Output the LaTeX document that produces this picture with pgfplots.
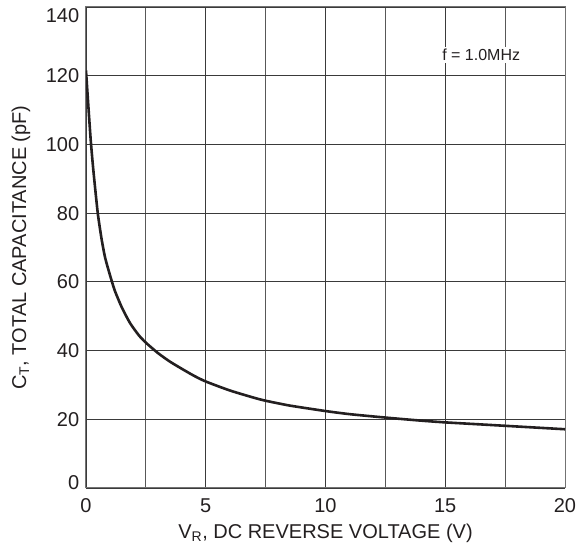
\documentclass[border=0pt]{standalone}
\usepackage{fontspec}
\setmainfont{Liberation Sans}
\usepackage{pgfplots}
\pgfplotsset{compat=1.18}
\definecolor{ink}{HTML}{231F20}
\definecolor{gridc}{HTML}{3A3A3A}

\begin{document}
\fontsize{20}{24}\selectfont
\begin{tikzpicture}
  \begin{axis}[
        at={(0,0)}, anchor=south west,
        scale only axis,
        width=479pt, height=481pt,
        xmin=0, xmax=20, ymin=0, ymax=140,
        xtick={0,5,...,20},
        minor xtick={2.5,7.5,12.5,17.5},
        ytick={0,20,...,140},
        grid=both,
        major grid style={draw=gridc, line width=0.9pt},
        minor grid style={draw=gridc!85, line width=0.9pt},
        major tick length=0pt, minor tick length=0pt,
        axis line style={draw=black!55, line width=1pt},
        tick label style={font=\fontsize{20}{24}\selectfont, text=ink},
        label style={font=\fontsize{20}{24}\selectfont, text=ink},
        /pgf/number format/assume math mode=true,
        xticklabel style={yshift=-4pt},
        % the end labels sit inside the frame in the original
        yticklabel={\pgfmathtruncatemacro\tv{\tick}%
            \ifnum\tv=140 \raisebox{-9pt}[\height][\depth]{140}%
            \else\ifnum\tv=0 \raisebox{5pt}[\height][\depth]{0}%
            \else\tv\fi\fi},
        xlabel={V\textsubscript{R}, DC REVERSE VOLTAGE (V)},
        ylabel={C\textsubscript{T}, TOTAL CAPACITANCE (pF)},
        xlabel style={yshift=3pt},
        ylabel style={yshift=2pt},
    ]
    \addplot [ink, line width=2.6pt, smooth, tension=0.4] coordinates {
        (0,121.5) (0.1,111) (0.2,101) (0.3,93) (0.4,86) (0.5,79.5)
        (0.65,72.5) (0.8,67) (1.0,62) (1.2,57.5) (1.5,52.5) (1.84,48)
        (2.2,44.5) (2.5,42.3) (3,39.3) (3.5,36.8) (4,34.7) (4.5,32.7)
        (5,31) (6,28.4) (7,26.3) (7.5,25.4) (8.5,24) (10,22.4)
        (11,21.5) (12.5,20.5) (14,19.6) (15,19.1) (16.5,18.5)
        (17.5,18.1) (19,17.5) (20,17.1)
    };
    \node[fill=white, inner sep=2pt, text=ink,
          font=\fontsize{16}{19}\selectfont] at (axis cs:16.5,126) {f = 1.0MHz};
  \end{axis}
  \pgfresetboundingbox
  \path[use as bounding box] (-86pt,-58pt) rectangle (495pt,488pt);
\end{tikzpicture}
\end{document}
